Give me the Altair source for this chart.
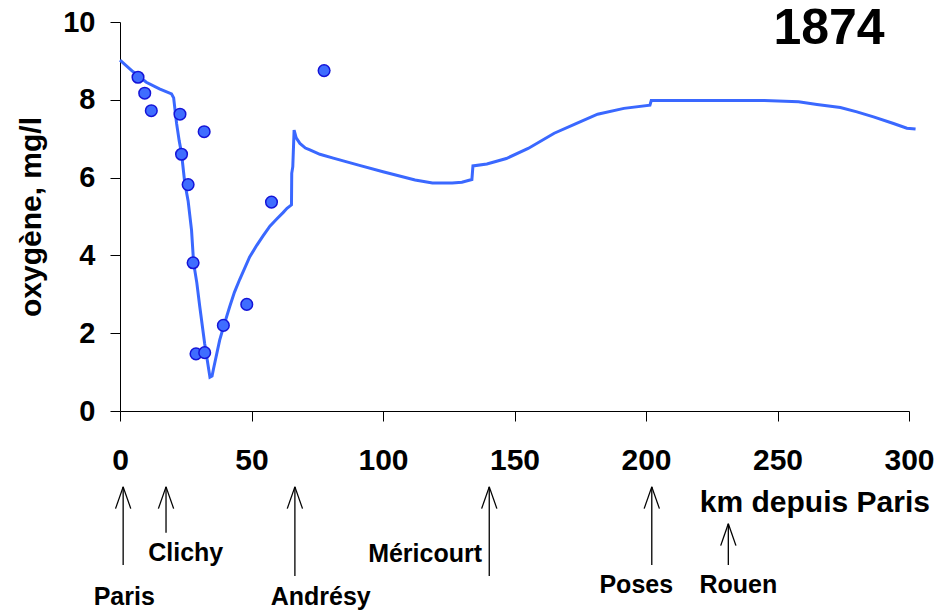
import altair as alt
import pandas as pd

# ---- data ----
km_line = [0, 5, 10, 15, 19.6, 20.4, 21.5, 22.5, 23.4, 24.6, 25.9, 27.2, 28.0, 29.2,
           30.3, 32.2, 33.2, 34.2, 35.0, 35.6, 37.9, 39.3, 41.7, 43.5, 45.5, 49.3,
           52, 54.4, 57, 59.5, 62, 63.5, 65.2, 65.3, 65.7, 66.2, 67.0, 68.4, 70.5,
           72.2, 76, 81.1, 90.7, 100, 112.2, 118.8, 126.3, 130, 133.8, 134.2, 139.5,
           146.9, 155.2, 165.1, 173.4, 181.6, 191.6, 201.5, 202, 245, 258, 265,
           273.9, 280.2, 286.5, 294.1, 299.2, 302.5]
o2_line = [9.02, 8.72, 8.45, 8.28, 8.15, 8.05, 7.40, 6.95, 6.62, 5.88, 5.40, 4.65, 3.80, 3.30,
           2.70, 1.73, 1.30, 0.87, 0.90, 1.10, 1.82, 2.15, 2.68, 3.05, 3.38, 3.96,
           4.26, 4.50, 4.75, 4.93, 5.10, 5.21, 5.30, 6.11, 6.28, 7.22, 7.02, 6.88, 6.76,
           6.71, 6.60, 6.50, 6.32, 6.15, 5.94, 5.86, 5.86, 5.88, 5.95, 6.30, 6.35,
           6.49, 6.75, 7.14, 7.39, 7.63, 7.78, 7.86, 7.98, 7.98, 7.95, 7.88,
           7.80, 7.69, 7.56, 7.39, 7.27, 7.25]

km_obs = [6.85, 9.4, 11.9, 22.8, 32.0, 23.4, 25.9, 57.6, 27.8, 48.2, 39.3, 28.9, 32.2, 77.6]
o2_obs = [8.58, 8.17, 7.72, 7.63, 7.18, 6.60, 5.82, 5.37, 3.81, 2.74, 2.20, 1.47, 1.50, 8.75]

towns = ["Paris", "Clichy", "Andrésy", "Méricourt", "Poses", "Rouen"]
town_km = [1.2, 17.5, 66.5, 140.4, 202.2, 231.3]

x_ticks = [0, 50, 100, 150, 200, 250, 300]
y_ticks = [0, 2, 4, 6, 8, 10]

year_label = "1874"
x_label = "km depuis Paris"
y_label = "oxygène, mg/l"

# ---- annotation layout (below the axis, in axis units) ----
arrow_top = [-1.95, -1.95, -1.95, -1.95, -1.95, -2.90]
arrow_bottom = [-3.96, -3.13, -4.24, -4.24, -3.96, -3.96]
label_km = [1.6, 25.0, 76.3, 116.0, 196.3, 235.1]
label_y = [-4.77, -3.65, -4.77, -3.68, -4.47, -4.47]
wing_dx = 2.9
wing_dy = 0.56

FONT = "Liberation Sans"
W, H = 789, 389

line_df = pd.DataFrame({"x": km_line, "y": o2_line})
obs_df = pd.DataFrame({"x": km_obs, "y": o2_obs})
shaft_df = pd.DataFrame({"x": town_km, "y": arrow_top, "y2": arrow_bottom})
wing_rows = []
for k, t in zip(town_km, arrow_top):
    wing_rows.append({"x": k, "y": t, "x2": k - wing_dx, "y2": t - wing_dy})
    wing_rows.append({"x": k, "y": t, "x2": k + wing_dx, "y2": t - wing_dy})
wing_df = pd.DataFrame(wing_rows)
lab_df = pd.DataFrame({"x": label_km, "y": label_y, "t": towns})
extra_df = pd.DataFrame({"x": [264.2], "y": [-2.37], "t": [x_label]})
year_df = pd.DataFrame({"x": [269.6], "y": [9.82], "t": [year_label]})

X = alt.X("x:Q", title="",
          scale=alt.Scale(domain=[0, 300], nice=False, zero=False),
          axis=alt.Axis(values=x_ticks, grid=False, tickSize=10, tickColor="black",
                        domainColor="black", labelFont=FONT, labelFontWeight="bold",
                        labelFontSize=30, labelColor="black", labelPadding=24,
                        labelFlush=False, labelOverlap=False, format="d"))
Y = alt.Y("y:Q", title=y_label,
          scale=alt.Scale(domain=[0, 10], nice=False, zero=False),
          axis=alt.Axis(values=y_ticks, grid=False, tickSize=10, tickColor="black",
                        domainColor="black", labelFont=FONT, labelFontWeight="bold",
                        labelFontSize=29, labelColor="black", labelPadding=15,
                        labelFlush=False, format="d",
                        titleFont=FONT, titleFontWeight="bold", titleFontSize=30,
                        titleColor="black", titlePadding=16))

line = alt.Chart(line_df).mark_line(color="#3a68ff", strokeWidth=3).encode(x=X, y=Y)
pts = alt.Chart(obs_df).mark_point(filled=True, size=135, fill="#3f6dff", stroke="#1414d8",
                                   strokeWidth=1.5, opacity=1, fillOpacity=1).encode(x=X, y=Y)
shafts = alt.Chart(shaft_df).mark_rule(color="black", strokeWidth=1.3).encode(
    x=X, y=Y, y2=alt.Y2("y2"))
wings = alt.Chart(wing_df).mark_rule(color="black", strokeWidth=1.3).encode(
    x=X, y=Y, x2=alt.X2("x2"), y2=alt.Y2("y2"))
labels = alt.Chart(lab_df).mark_text(font=FONT, fontWeight="bold", fontSize=25,
                                     color="black", align="center", baseline="middle").encode(
    x=X, y=Y, text="t:N")
extra = alt.Chart(extra_df).mark_text(font=FONT, fontWeight="bold", fontSize=30,
                                      color="black", align="center", baseline="middle").encode(
    x=X, y=Y, text="t:N")
year = alt.Chart(year_df).mark_text(font=FONT, fontWeight="bold", fontSize=50,
                                    color="black", align="center", baseline="middle").encode(
    x=X, y=Y, text="t:N")

chart = alt.layer(line, pts, shafts, wings, labels, extra, year).properties(
    width=W, height=H,
    autosize=alt.AutoSizeParams(type="none"),
    padding={"left": 120, "top": 22, "right": 31, "bottom": 199},
    background="white",
).configure_view(stroke="transparent")

chart.save("out.html", embed_options={"renderer": "svg", "actions": False})
